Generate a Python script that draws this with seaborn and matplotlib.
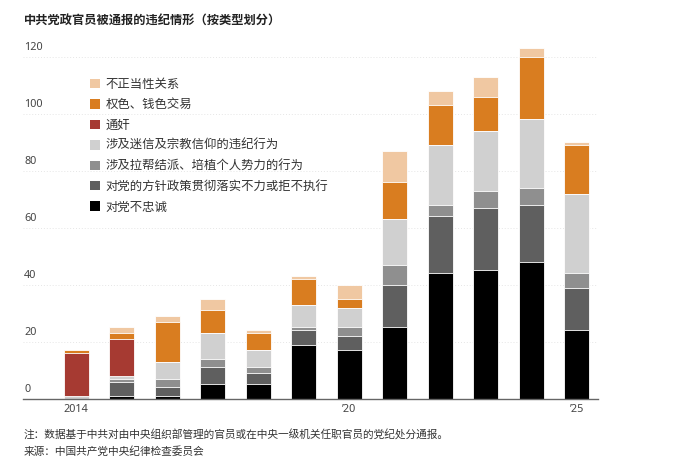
import matplotlib
matplotlib.use("Agg")
import matplotlib.pyplot as plt
import matplotlib.transforms as mtransforms
from matplotlib.patches import Patch
import numpy as np
import seaborn as sns

sns.set_theme(style="white")
plt.rcParams["font.family"] = ["Noto Sans CJK SC", "DejaVu Sans"]

years = ["2014", "2015", "2016", "2017", "2018", "2019",
         "2020", "2021", "2022", "2023", "2024", "2025"]

# stacked from bottom to top
disloyal = [0, 1, 1, 5, 5, 19, 17, 25, 44, 45, 48, 24]
not_implement = [0, 5, 3, 6, 4, 5, 5, 15, 20, 22, 20, 15]
factions = [0, 1, 3, 3, 2, 1, 3, 7, 4, 6, 6, 5]
superstition = [1, 1, 6, 9, 6, 8, 7, 16, 21, 21, 24, 28]
adultery = [15, 13, 0, 0, 0, 0, 0, 0, 0, 0, 0, 0]
sex_money = [1, 2, 14, 8, 6, 9, 3, 13, 14, 12, 22, 17]
improper = [0, 2, 2, 4, 1, 1, 5, 11, 5, 7, 3, 1]

labels = ["对党不忠诚", "对党的方针政策贯彻落实不力或拒不执行",
          "涉及拉帮结派、培植个人势力的行为", "涉及迷信及宗教信仰的违纪行为",
          "通奸", "权色、钱色交易", "不正当性关系"]
colors = ["#000000", "#5f5f5f", "#8f8f8f", "#d0d0d0",
          "#a63a32", "#d97d20", "#f0c8a2"]
series = [disloyal, not_implement, factions, superstition,
          adultery, sex_money, improper]

fig = plt.figure(figsize=(6.8, 4.65), dpi=100)
ax = fig.add_axes([23 / 680, 66.3 / 465, 575 / 680, 356.2 / 465])

cum = np.cumsum(np.array(series), axis=0)
# draw tallest cumulative first, smaller ones on top
for i in range(len(series) - 1, -1, -1):
    sns.barplot(x=years, y=cum[i], color=colors[i], saturation=1,
                width=0.55, errorbar=None, ax=ax,
                edgecolor="white", linewidth=0.6)

ax.set_xlim(-1.165, 11.47)
ax.set_ylim(0, 125)

num_font = ["Noto Sans", "DejaVu Sans"]

# y grid + labels sitting above the lines
trans = mtransforms.blended_transform_factory(ax.transAxes, ax.transData)
for v in range(20, 121, 20):
    ax.axhline(v, color="#e6e6e6", lw=0.7, ls=(0, (1, 2)), zorder=0)
for v in range(0, 121, 20):
    ax.text(0.002, v + 1.2, str(v), transform=trans, fontsize=7.8,
            color="#444444", ha="left", va="bottom", family=num_font)
ax.set_yticks([])

ax.set_xticks([0, 6, 11])
ax.set_xticklabels(["2014", "’20", "’25"], fontsize=7.8, color="#444444",
                   family=num_font)
ax.tick_params(axis="x", length=0, pad=4)
ax.set_xlabel("")
ax.set_ylabel("")

sns.despine(ax=ax, left=True)
ax.spines["bottom"].set_color("#666666")
ax.spines["bottom"].set_linewidth(1.0)

handles = [Patch(facecolor=colors[i], edgecolor="none", label=labels[i])
           for i in range(len(labels) - 1, -1, -1)]
fig.legend(handles=handles, loc="upper left",
           bbox_to_anchor=(85 / 680, 1 - 73 / 465), frameon=False,
           fontsize=8.9, handlelength=0.8, handleheight=0.8,
           handletextpad=0.45, labelspacing=0.6, borderaxespad=0,
           labelcolor="#333333")

fig.text(24 / 680, 1 - 20 / 465, "中共党政官员被通报的违纪情形（按类型划分）",
         fontsize=8.8, fontweight="bold", color="#222222", va="center")
fig.text(24 / 680, 1 - 435 / 465,
         "注：数据基于中共对由中央组织部管理的官员或在中央一级机关任职官员的党纪处分通报。",
         fontsize=7.7, color="#333333", va="center")
fig.text(24 / 680, 1 - 452 / 465, "来源：中国共产党中央纪律检查委员会",
         fontsize=7.7, color="#333333", va="center")

fig.savefig("out.png", dpi=100)
